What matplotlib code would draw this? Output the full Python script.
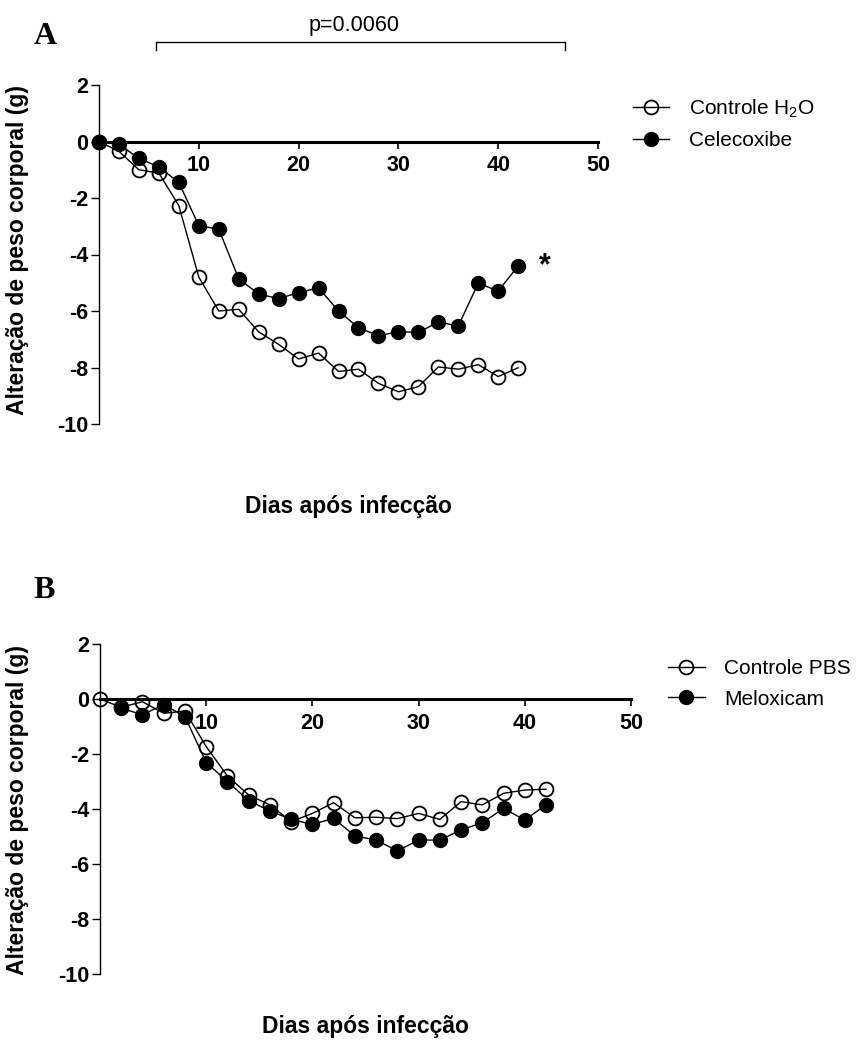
import matplotlib
matplotlib.use("Agg")
import matplotlib.pyplot as plt
from matplotlib.lines import Line2D

plt.rcParams['font.family'] = ['Liberation Sans', 'DejaVu Sans']
plt.rcParams['mathtext.default'] = 'regular'

# ---------------- data ----------------
days_A = [0, 2, 4, 6, 8, 10, 12, 14, 16, 18, 20, 22, 24, 26, 28, 30, 32, 34, 36, 38, 40, 42]
controle_h2o = [0, -0.35, -1.0, -1.12, -2.27, -4.8, -6.0, -5.94, -6.74, -7.18, -7.7, -7.49,
                -8.14, -8.06, -8.56, -8.86, -8.68, -7.98, -8.06, -7.9, -8.32, -8.01]
celecoxibe = [0, -0.1, -0.6, -0.9, -1.45, -2.98, -3.1, -4.86, -5.4, -5.56, -5.35, -5.18,
              -6.0, -6.59, -6.88, -6.73, -6.76, -6.39, -6.53, -5.02, -5.29, -4.41]

days_B_pbs = [0, 2, 4, 6, 8, 10, 12, 14, 16, 18, 20, 22, 24, 26, 28, 30, 32, 34, 36, 38, 40, 42]
controle_pbs = [0, -0.3, -0.1, -0.52, -0.44, -1.73, -2.8, -3.49, -3.85, -4.46, -4.16, -3.77,
                -4.32, -4.3, -4.35, -4.16, -4.38, -3.73, -3.85, -3.43, -3.31, -3.28]
days_B_mel = [2, 4, 6, 8, 10, 12, 14, 16, 18, 20, 22, 24, 26, 28, 30, 32, 34, 36, 38, 40, 42]
meloxicam = [-0.34, -0.57, -0.2, -0.64, -2.31, -3.0, -3.7, -4.07, -4.38, -4.56, -4.34,
             -4.98, -5.13, -5.52, -5.13, -5.13, -4.76, -4.5, -3.98, -4.4, -3.85]

x_ticks = [10, 20, 30, 40, 50]
y_ticks = [2, 0, -2, -4, -6, -8, -10]
x_label = "Dias após infecção"
y_label = "Alteração de peso corporal (g)"
p_text = "p=0.0060"
p_span = (5.7, 46.7)

W, H = 866, 1041
fig = plt.figure(figsize=(W / 100, H / 100), dpi=100)


def px_axes(x0, x1, ytop, ybot):
    return fig.add_axes([x0 / W, 1 - ybot / H, (x1 - x0) / W, (ybot - ytop) / H])


def style_axes(ax):
    ax.set_xlim(0, 50)
    ax.set_ylim(-10, 2)
    ax.spines['top'].set_visible(False)
    ax.spines['right'].set_visible(False)
    ax.spines['bottom'].set_position(('data', 0))
    ax.spines['bottom'].set_linewidth(2.2)
    ax.spines['left'].set_linewidth(1.0)
    ax.set_xticks(x_ticks)
    ax.set_yticks(y_ticks)
    ax.set_xticklabels([str(t) for t in x_ticks], fontweight='bold', fontsize=15.5)
    ax.set_yticklabels([str(t) for t in y_ticks], fontweight='bold', fontsize=15.5)
    ax.tick_params(axis='x', direction='out', length=5, width=1.2, pad=5)
    ax.tick_params(axis='y', direction='out', length=6, width=1.0, pad=2)
    ax.patch.set_alpha(0)


mk = dict(markersize=10, linewidth=1.0, color='black', clip_on=False)

# ---------------- Panel A ----------------
axA = px_axes(99, 598, 85, 424)
style_axes(axA)
axA.plot(days_A, controle_h2o, marker='o', markerfacecolor='none', markeredgewidth=1.3,
         zorder=3, **mk)
axA.plot(days_A, celecoxibe, marker='o', markerfacecolor='black', zorder=4, **mk)

hA = [Line2D([], [], color='black', lw=1.0, marker='o', markersize=10,
             markerfacecolor='none', markeredgewidth=1.3),
      Line2D([], [], color='black', lw=1.0, marker='o', markersize=10,
             markerfacecolor='black')]
axA.legend(hA, ['Controle H$_2$O', 'Celecoxibe'], loc='center left',
           bbox_to_anchor=(1.07, 0.885), frameon=False, fontsize=15,
           handlelength=1.75, handletextpad=0.95, labelspacing=0.55,
           borderpad=0, borderaxespad=0)

# significance bracket
yb, yt = 3.52, 3.24
axA.plot([p_span[0], p_span[0], p_span[1], p_span[1]], [yt, yb, yb, yt],
         color='black', lw=1.0, clip_on=False)
axA.text((p_span[0] + p_span[1]) / 2 - 0.6, 4.12, p_text, ha='center', va='center',
         fontsize=15.5)
axA.text(44.7, -4.4, '*', ha='center', va='center', fontsize=22, fontweight='bold')

# ---------------- Panel B ----------------
axB = px_axes(100, 631, 644, 974)
style_axes(axB)
axB.plot(days_B_pbs, controle_pbs, marker='o', markerfacecolor='none', markeredgewidth=1.3,
         zorder=3, **mk)
axB.plot(days_B_mel, meloxicam, marker='o', markerfacecolor='black', zorder=4, **mk)

hB = [Line2D([], [], color='black', lw=1.0, marker='o', markersize=10,
             markerfacecolor='none', markeredgewidth=1.3),
      Line2D([], [], color='black', lw=1.0, marker='o', markersize=10,
             markerfacecolor='black')]
axB.legend(hB, ['Controle PBS', 'Meloxicam'], loc='center left',
           bbox_to_anchor=(1.07, 0.879), frameon=False, fontsize=15,
           handlelength=1.75, handletextpad=0.95, labelspacing=0.55,
           borderpad=0, borderaxespad=0)

# ---------------- text labels ----------------
lab = dict(fontweight='bold', fontsize=16.5, ha='center', va='center')
fig.text(18 / W, 1 - 250 / H, y_label, rotation=90, **lab)
fig.text(18 / W, 1 - 810 / H, y_label, rotation=90, **lab)
fig.text(348 / W, 1 - 507 / H, x_label, **lab)
fig.text(365 / W, 1 - 1027 / H, x_label, **lab)

fig.text(45 / W, 1 - 37 / H, 'A', family='Liberation Serif', fontweight='bold',
         fontsize=23, ha='center', va='center')
fig.text(44 / W, 1 - 591 / H, 'B', family='Liberation Serif', fontweight='bold',
         fontsize=23, ha='center', va='center')

fig.savefig('out.png', dpi=100)
